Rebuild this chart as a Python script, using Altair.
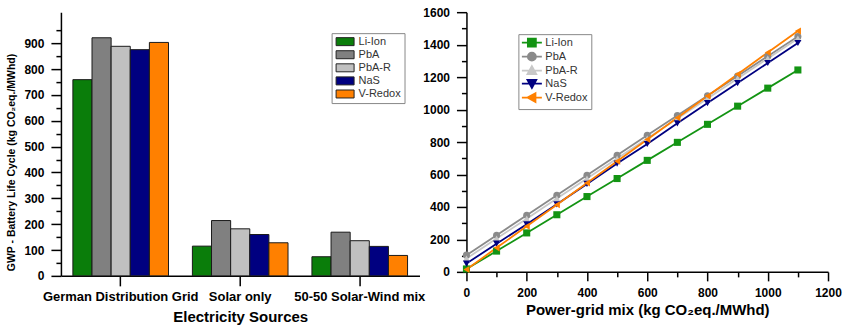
import altair as alt
import pandas as pd

# ---------------- data ----------------
categories = ["German Distribution Grid", "Solar only", "50-50 Solar-Wind mix"]
series = ["Li-Ion", "PbA", "PbA-R", "NaS", "V-Redox"]

bar_li_ion = [759, 115, 74]
bar_pba = [921, 214, 169]
bar_pba_r = [888, 182, 136]
bar_nas = [875, 160, 114]
bar_v_redox = [903, 128, 79]
bar_values = [bar_li_ion, bar_pba, bar_pba_r, bar_nas, bar_v_redox]

grid_mix = [0, 100, 200, 300, 400, 500, 600, 700, 800, 900, 1000, 1100]
line_li_ion = [18, 128, 240, 352, 464, 575, 687, 798, 909, 1021, 1132, 1244]
line_pba = [103, 226, 349, 472, 595, 718, 841, 963, 1085, 1207, 1329, 1450]
line_pba_r = [82, 205, 328, 452, 575, 698, 822, 945, 1068, 1192, 1315, 1438]
line_nas = [51, 174, 293, 416, 542, 667, 788, 915, 1040, 1163, 1287, 1410]
line_v_redox = [15, 148, 281, 414, 548, 682, 816, 950, 1084, 1218, 1352, 1484]
line_values = [line_li_ion, line_pba, line_pba_r, line_nas, line_v_redox]

# ---------------- styles ----------------
bar_colors = ["#0a7d0a", "#808080", "#c0c0c0", "#000080", "#ff8000"]
line_colors = ["#139413", "#8a8a8a", "#c8c8c8", "#000080", "#ff8000"]
marker_shapes = ["square", "circle", "triangle-up", "triangle-down", "triangle-left"]
legend_paths = [
    "M-2.5,0H2.5M-1,-1H1V1H-1Z",
    "M-2.5,0H2.5M1,0A1,1 0 1,1 -1,0A1,1 0 1,1 1,0Z",
    "M-2.5,0H2.5M0,-1.1L1.1,0.9H-1.1Z",
    "M-2.5,0H2.5M0,1.1L1.1,-0.9H-1.1Z",
    "M-2.5,0H2.5M-1.1,0L0.9,-1.1V1.1Z",
]
FONT = "Liberation Sans"

bar_df = pd.DataFrame(
    [{"source": c, "battery": s, "gwp": v}
     for s, vals in zip(series, bar_values) for c, v in zip(categories, vals)]
)
line_df = pd.DataFrame(
    [{"mix": x, "battery": s, "gwp": v}
     for s, vals in zip(series, line_values) for x, v in zip(grid_mix, vals)]
)
line_df["key"] = line_df["battery"]


def minor_tick(step, major=10, minor=5):
    return {"condition": {"test": f"datum.value % {step} != 0", "value": minor},
            "value": major}


# ---------------- left: grouped bars ----------------
left = alt.Chart(bar_df).mark_bar(stroke="#1a1a1a", strokeWidth=1).encode(
    x=alt.X(
        "source:N", sort=categories,
        scale=alt.Scale(paddingInner=0.2, paddingOuter=0.1),
        axis=alt.Axis(title="Electricity Sources", labelAngle=0, bandPosition=0.5,
                      tickSize=10, labelPadding=5, titlePadding=6,
                      labelFontSize=13, titleFontSize=15),
    ),
    xOffset=alt.XOffset("battery:N", sort=series,
                        scale=alt.Scale(paddingInner=0, paddingOuter=0)),
    y=alt.Y(
        "gwp:Q", scale=alt.Scale(domain=[0, 1020], nice=False),
        axis=alt.Axis(title="GWP - Battery Life Cycle (kg CO₂eq./MWhd)",
                      values=list(range(0, 951, 50)),
                      labelExpr="datum.value % 100 == 0 ? datum.label : ''",
                      tickSize=minor_tick(100), labelPadding=7,
                      titleFontSize=10.5, titleX=-44, titleY=150),
    ),
    color=alt.Color(
        "battery:N", sort=series,
        scale=alt.Scale(domain=series, range=bar_colors),
        legend=alt.Legend(title=None, orient="none", legendX=271, legendY=21,
                          padding=3, strokeColor="#888888", fillColor="white",
                          symbolType="M-2.25,-1H2.25V1H-2.25Z", symbolSize=64,
                          symbolStrokeColor="#222222", symbolStrokeWidth=1,
                          labelFont=FONT, labelFontSize=11, labelColor="#333333",
                          labelFontWeight="normal", rowPadding=0.1,
                          symbolOffset=5, labelOffset=8),
    ),
).properties(width=359, height=264)

# ---------------- right: lines with markers ----------------
x_enc = alt.X(
    "mix:Q", scale=alt.Scale(domain=[0, 1200], nice=False),
    axis=alt.Axis(title="Power-grid mix (kg CO₂eq./MWhd)", format="d",
                  values=list(range(0, 1201, 100)),
                  labelExpr="datum.value % 200 == 0 ? datum.label : ''",
                  tickSize=minor_tick(200, 9, 5), labelPadding=7, titlePadding=4,
                  labelFlush=False, titleFontSize=15),
)
y_enc = alt.Y(
    "gwp:Q", scale=alt.Scale(domain=[0, 1600], nice=False),
    axis=alt.Axis(title=None, format="d", values=list(range(0, 1601, 100)),
                  labelExpr="datum.value % 200 == 0 ? datum.label : ''",
                  tickSize=minor_tick(200), labelPadding=7, labelFlush=False),
)
line_color = alt.Color("battery:N", scale=alt.Scale(domain=series, range=line_colors),
                       legend=None)

base = alt.Chart(line_df)
lines = base.mark_line(strokeWidth=1.8).encode(x=x_enc, y=y_enc, color=line_color)
points = base.mark_point(filled=True, size=50, opacity=1).encode(
    x=x_enc, y=y_enc, color=line_color,
    shape=alt.Shape("battery:N", scale=alt.Scale(domain=series, range=marker_shapes),
                    legend=None),
)
line_legend = alt.Legend(title=None, orient="none", legendX=52, legendY=22,
                         padding=3, strokeColor="#888888", fillColor="white",
                         symbolSize=64, symbolStrokeWidth=1.8, symbolOpacity=1,
                         labelFont=FONT, labelFontSize=11, labelColor="#333333",
                         labelFontWeight="normal", rowPadding=-7,
                         symbolOffset=5, labelOffset=8)
legend_layer = base.mark_point(filled=True, opacity=0, size=64).encode(
    x=x_enc, y=y_enc,
    color=alt.Color("key:N", scale=alt.Scale(domain=series, range=line_colors),
                    legend=line_legend),
    stroke=alt.Stroke("key:N", scale=alt.Scale(domain=series, range=line_colors),
                      legend=line_legend),
    shape=alt.Shape("key:N", scale=alt.Scale(domain=series, range=legend_paths),
                    legend=line_legend),
)
right = alt.layer(lines, points, legend_layer).resolve_scale(
    color="independent", shape="independent", stroke="independent"
).properties(width=362, height=260)

chart = alt.hconcat(left, right, spacing=47, bounds="flush").properties(
    padding={"left": 6, "top": 5, "right": 3, "bottom": 2}
).configure_axis(
    labelFont=FONT, titleFont=FONT, labelFontWeight="bold", titleFontWeight="bold",
    labelColor="black", titleColor="black", domainColor="black", tickColor="black",
    domainWidth=1.5, tickWidth=1.5, grid=False, labelFontSize=12,
).configure_view(stroke="transparent")

chart.save("out.html", embed_options={"renderer": "svg", "actions": False})
